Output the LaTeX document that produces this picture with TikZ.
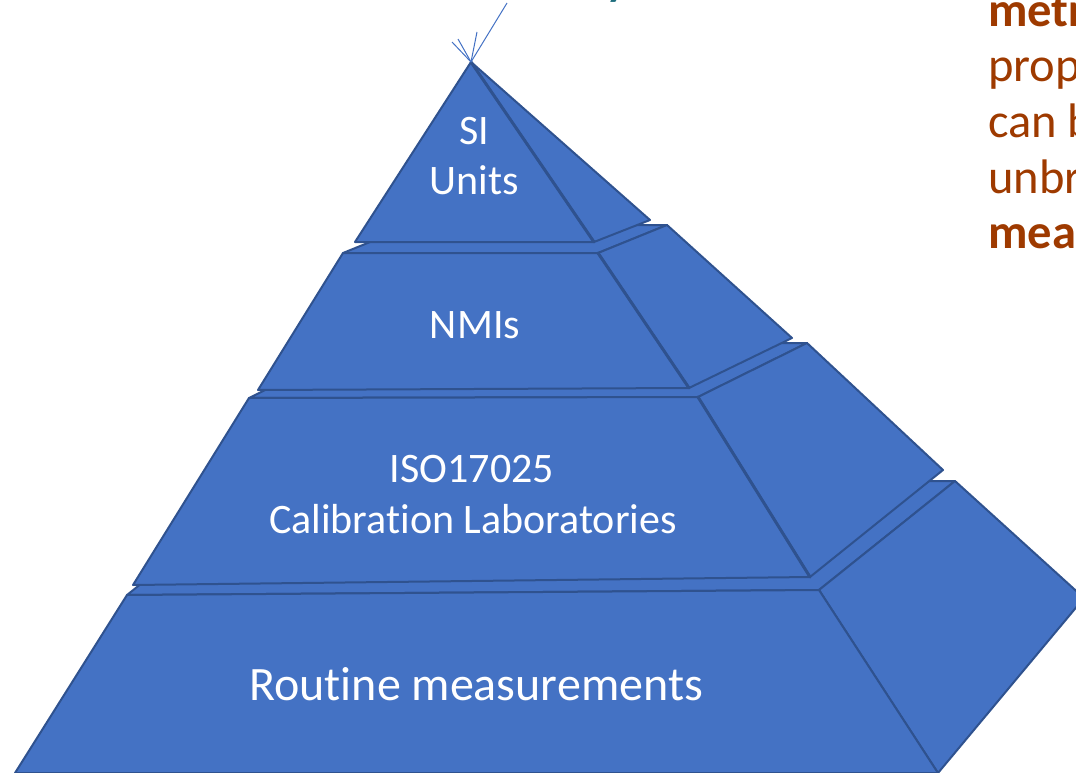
\documentclass[tikz,border=0pt]{standalone}
\usepackage{fontspec}
\setmainfont{Carlito}[Ligatures=NoCommon]
\usepackage{tikz}

\definecolor{pyrblue}{HTML}{4472C4}
\definecolor{pyredge}{HTML}{2F528F}
\definecolor{defbrown}{HTML}{9E3A00}
\definecolor{titleteal}{HTML}{1F6E7E}

\begin{document}
\begin{tikzpicture}[x=1pt, y=-1pt,
    face/.style={fill=pyrblue, draw=pyredge, line width=2pt, line join=round},
    ridge/.style={draw=pyredge, line width=3pt, line cap=round},
    tierlabel/.style={text=white, font=\fontsize{42}{50}\selectfont, anchor=base, inner sep=0pt},
    defline/.style={text=defbrown, font=\fontsize{48.5}{56}\selectfont, anchor=base west, inner sep=0pt}]
        \useasboundingbox (0,0) rectangle (1076,773);
        \clip (0,0) rectangle (1076,773);

        % bottom tier
        \draw [face]  (127,595) -- (819,590) -- (955,481) -- (263,486) -- cycle;
        \draw [face]  (819,590) -- (955,481) -- (1084,598) -- (938,773) -- cycle;
        \draw [face]  (127,595) -- (819,590) -- (938,773) -- (15,773) -- cycle;

        % third tier
        \draw [face]  (249,398) -- (698,397) -- (807,343) -- (358,344) -- cycle;
        \draw [face]  (698,397) -- (807,343) -- (943,470) -- (810,577) -- cycle;
        \draw [face]  (249,398) -- (698,397) -- (810,577) -- (133,585) -- cycle;
        \draw [ridge] (698,397) -- (810,577);

        % second tier
        \draw [face]  (343,253) -- (598,253) -- (667,225) -- (412,225) -- cycle;
        \draw [face]  (598,253) -- (667,225) -- (792,338) -- (689,388) -- cycle;
        \draw [face]  (343,253) -- (598,253) -- (689,388) -- (258,390) -- cycle;
        \draw [ridge] (598,253) -- (689,388);

        % top
        \coordinate (apex) at (471,62);
        \draw [face]  (apex) -- (650,220) -- (594,242) -- cycle;
        \draw [face]  (apex) -- (594,242) -- (355,242) -- cycle;
        \draw [ridge] (apex) -- (594,242);

        \draw [pyrblue, line width=1pt] (apex) -- (507,3);
        \draw [pyrblue, line width=1pt] (apex) -- (452,42);
        \draw [pyrblue, line width=1pt] (apex) -- (458,39);
        \draw [pyrblue, line width=1pt] (apex) -- (477,32);

        \node [tierlabel] (si)      at (474,145) {SI};
        \node [tierlabel] (units)   at (474,194) {Units};
        \node [tierlabel] (nmis)    at (475,338) {NMIs};
        \node [tierlabel] (iso)     at (472,482) {ISO17025};
        \node [tierlabel] (calib)   at (473,533) {Calibration Laboratories};
        \node [tierlabel, font=\fontsize{48}{56}\selectfont] (routine) at (476,700) {Routine measurements};

        \node [text=titleteal, font=\bfseries\fontsize{44}{50}\selectfont, anchor=base west, inner sep=0pt] (title) at (606,-4) {y};

        \node [defline] (def1) at (988,27)  {\bfseries metr};
        \node [defline] (def2) at (988,82)  {prop};
        \node [defline] (def3) at (988,138) {can b};
        \node [defline] (def4) at (988,193) {unbr};
        \node [defline] (def5) at (988,248) {\bfseries meas};
\end{tikzpicture}
\end{document}
